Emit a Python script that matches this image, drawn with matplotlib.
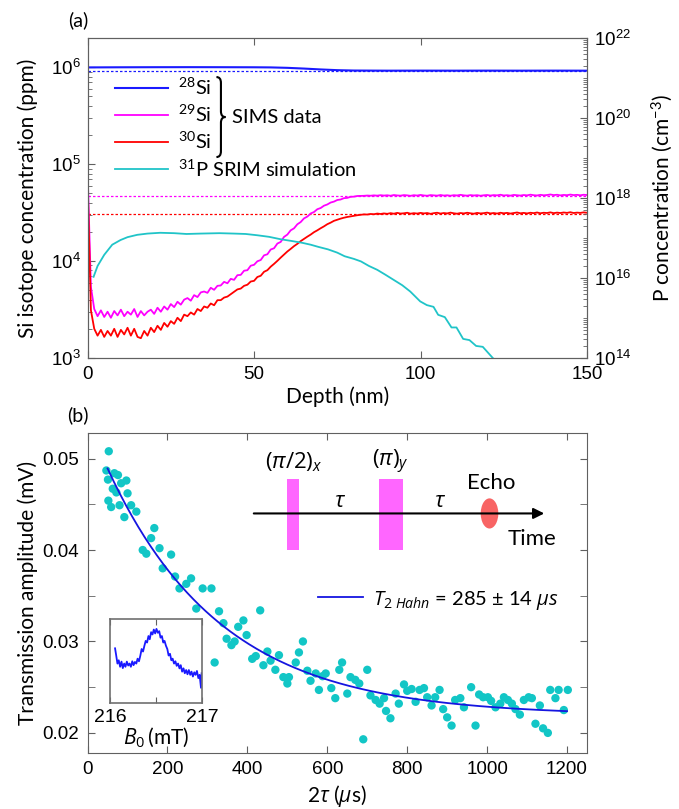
import numpy as np
import matplotlib
matplotlib.use("Agg")
import matplotlib.pyplot as plt
from matplotlib.ticker import LogLocator, MultipleLocator, NullFormatter, FixedLocator
from matplotlib.patches import Rectangle, Ellipse, PathPatch
from matplotlib.path import Path

plt.rcParams['font.family'] = ['Liberation Sans', 'DejaVu Sans']
plt.rcParams['mathtext.fontset'] = 'custom'
plt.rcParams['mathtext.rm'] = 'Open Sans'
plt.rcParams['mathtext.it'] = 'Open Sans:italic'
LABEL_FONT = ['Lato', 'Open Sans', 'DejaVu Sans']

# ---------------- (a) SIMS depth profiles ----------------
depth_nm = np.arange(0, 151)

si29_ppm = [85000, 5400, 3200, 2700, 3100, 2650, 3000, 2600, 3050, 2750,
            3150, 2700, 3000, 2800, 3200, 2650, 3050, 2750, 3000, 3150,
            2850, 3300, 3000, 3400, 3150, 3600, 3350, 3800, 3550, 4000,
            4150, 3900, 4450, 4250, 4750, 4850, 4700, 5300, 5050, 5550,
            5600, 6100, 5900, 6550, 6400, 7150, 7200, 7950, 8050, 8950,
            9150, 9950, 10250, 11450, 11750, 13150, 13550, 15150, 15750, 17750,
            18750, 20750, 21750, 23950, 25250, 27550, 28750, 30950, 32050, 34250,
            35250, 37250, 38350, 40150, 41050, 42650, 43150, 44550, 44850, 46000,
            46200, 46900, 47000, 47100, 47400, 47200, 47600, 47300, 47800, 47400,
            47700, 47200, 48000, 47500, 47300, 47900, 47600, 47100, 47800, 47400,
            48100, 47500, 47200, 47900, 47600, 47300, 48000, 47400, 47700, 47200,
            47800, 47500, 48200, 47600, 47300, 47900, 47500, 47800, 47200, 47700,
            48000, 47400, 47900, 47600, 48300, 47500, 47800, 47300, 48100, 47700,
            47400, 48000, 47600, 48400, 47800, 47500, 48200, 47700, 48000, 48600,
            47900, 48300, 47600, 48100, 47800, 48500, 47900, 48200, 47700, 48300,
            48000]

si30_ppm = [65000, 3100, 2000, 1700, 1950, 1650, 1900, 1700, 2000, 1650,
            1950, 1750, 2050, 1700, 2000, 1650, 1600, 1900, 1700, 2050,
            1850, 2150, 1950, 2300, 2100, 2400, 2250, 2600, 2400, 2800,
            2700, 2950, 2800, 3200, 3050, 3400, 3300, 3650, 3500, 3950,
            3950, 4200, 4300, 4550, 4800, 5100, 5200, 5550, 5700, 6150,
            6250, 6850, 7050, 7750, 8050, 8750, 9350, 10050, 10850, 11650,
            12550, 13350, 14250, 15050, 16050, 16950, 17850, 18750, 19850, 20750,
            21800, 22800, 24000, 24900, 26000, 26700, 27400, 28000, 28500, 28900,
            29300, 29700, 30000, 30300, 30200, 30600, 30400, 30900, 30600, 31000,
            30700, 31200, 30800, 31400, 30900, 31100, 31500, 30800, 31200, 30900,
            31400, 31000, 31300, 30700, 31200, 31500, 30900, 31300, 31000, 31600,
            31100, 30800, 31300, 31000, 31500, 31100, 30800, 31400, 31000, 31200,
            31600, 31000, 31300, 30900, 31500, 31100, 31400, 30900, 31300, 31700,
            31100, 31400, 31000, 31500, 31200, 31700, 31100, 31500, 31300, 31800,
            31200, 31600, 31300, 31700, 31400, 31900, 31300, 31600, 31400, 31800,
            31500]

depth_28_nm = [0, 10, 20, 30, 40, 50, 55, 60, 65, 70, 75, 80, 90, 100, 110, 120, 130, 140, 150]
si28_ppm = [995000, 998000, 1000000, 1001000, 1000000, 998000, 995000, 985000, 968000,
            948000, 932000, 924000, 921000, 922000, 921000, 922000, 921000, 922000, 921000]

# natural abundances (ppm)
natural_ppm = {'28': 922300, '29': 46850, '30': 30920}

depth_p_nm = [1.8, 3.0, 5.0, 7.4, 9.9, 12, 14.9, 18, 21.8, 26, 29.7, 34, 39.6, 44, 47.5,
              51, 54.5, 58, 61, 64.4, 67, 69.3, 72.2, 75, 77.2, 80, 82.1, 84.5, 87, 89.5,
              92, 94.5, 96.9, 99.9, 101.9, 103.9, 105.3, 107.3, 109.3, 110.8, 112.8,
              114.7, 116.7, 118.7, 121.7, 123.5]
p_conc_cm3 = [1.07e16, 2.0e16, 3.8e16, 6.8e16, 8.9e16, 1.05e17, 1.2e17, 1.29e17, 1.35e17,
              1.32e17, 1.26e17, 1.29e17, 1.32e17, 1.29e17, 1.26e17, 1.17e17, 1.07e17,
              9.3e16, 8.5e16, 7.6e16, 6.8e16, 6.0e16, 5.2e16, 4.3e16, 3.5e16, 3.0e16,
              2.6e16, 2.0e16, 1.6e16, 1.2e16, 8.9e15, 6.6e15, 4.6e15, 2.6e15, 2.1e15,
              1.9e15, 1.2e15, 1.05e15, 5.8e14, 5.8e14, 3.0e14, 2.8e14, 2.0e14, 1.9e14,
              1.0e14, 7.0e13]

# ---------------- (b) Hahn echo decay ----------------
two_tau_us = [47, 51, 52, 53, 59, 63, 67, 72, 76, 80, 84, 92, 97, 100, 109, 122, 138, 147,
              159, 167, 180, 188, 209, 219, 230, 247, 259, 272, 288, 310, 318, 329, 340,
              348, 360, 368, 377, 390, 398, 412, 421, 432, 440, 450, 458, 470, 479, 490,
              500, 504, 521, 529, 539, 550, 558, 571, 579, 588, 596, 610, 620, 630, 637,
              650, 658, 670, 680, 690, 700, 708, 721, 731, 742, 747, 758, 771, 779, 792,
              800, 811, 821, 831, 842, 850, 861, 870, 881, 890, 900, 911, 920, 933, 942,
              960, 971, 980, 990, 1002, 1010, 1021, 1033, 1042, 1052, 1062, 1071, 1082,
              1092, 1104, 1112, 1121, 1132, 1140, 1152, 1158, 1171, 1179, 1192, 1202]
amplitude_mV = [0.0487, 0.0477, 0.0454, 0.0508, 0.0447, 0.0467, 0.0484, 0.0463, 0.0482,
                0.0449, 0.0473, 0.0436, 0.0476, 0.0462, 0.0449, 0.0442, 0.0400, 0.0396,
                0.0413, 0.0424, 0.0402, 0.0380, 0.0395, 0.0371, 0.0358, 0.0363, 0.0369,
                0.0336, 0.0358, 0.0358, 0.0277, 0.0333, 0.0320, 0.0303, 0.0296, 0.0300,
                0.0316, 0.0323, 0.0307, 0.0281, 0.0284, 0.0334, 0.0274, 0.0289, 0.0279,
                0.0269, 0.0285, 0.0261, 0.0254, 0.0261, 0.0277, 0.0288, 0.0300, 0.0268,
                0.0257, 0.0265, 0.0247, 0.0262, 0.0265, 0.0249, 0.0238, 0.0269, 0.0277,
                0.0243, 0.0261, 0.0258, 0.0254, 0.0193, 0.0269, 0.0241, 0.0236, 0.0232,
                0.0238, 0.0224, 0.0216, 0.0243, 0.0232, 0.0253, 0.0246, 0.0248, 0.0234,
                0.0247, 0.0249, 0.0239, 0.0230, 0.0239, 0.0247, 0.0226, 0.0217, 0.0208,
                0.0236, 0.0238, 0.0228, 0.0250, 0.0208, 0.0242, 0.0239, 0.0239, 0.0235,
                0.0228, 0.0232, 0.0239, 0.0236, 0.0232, 0.0226, 0.0220, 0.0236, 0.0239,
                0.0238, 0.0210, 0.0230, 0.0205, 0.0200, 0.0247, 0.0238, 0.0247, 0.0225,
                0.0247]

t2_hahn_us = 285
t2_err_us = 14
fit_amp_mV = 0.0322
fit_offset_mV = 0.0219

# ESR line used for the inset
b0_mT = [216.055, 216.066, 216.081, 216.095, 216.110, 216.125, 216.139, 216.154, 216.168,
         216.183, 216.198, 216.212, 216.227, 216.242, 216.256, 216.271, 216.286, 216.300,
         216.315, 216.330, 216.344, 216.359, 216.374, 216.388, 216.403, 216.418, 216.432,
         216.447, 216.462, 216.476, 216.491, 216.505, 216.520, 216.535, 216.549, 216.564,
         216.579, 216.593, 216.608, 216.623, 216.637, 216.652, 216.667, 216.681, 216.696,
         216.711, 216.725, 216.740, 216.755, 216.769, 216.784, 216.799, 216.813, 216.828,
         216.842, 216.857, 216.872, 216.886, 216.901, 216.916, 216.930, 216.945, 216.960,
         216.974, 216.989, 216.996]
esr_signal = [0.65, 0.575, 0.469, 0.508, 0.431, 0.492, 0.415, 0.469, 0.431, 0.492, 0.446,
              0.469, 0.431, 0.496, 0.450, 0.488, 0.469, 0.527, 0.496, 0.565, 0.642, 0.612,
              0.681, 0.738, 0.719, 0.796, 0.758, 0.842, 0.815, 0.873, 0.827, 0.881, 0.835,
              0.854, 0.777, 0.796, 0.719, 0.738, 0.681, 0.642, 0.565, 0.585, 0.508, 0.527,
              0.469, 0.496, 0.442, 0.469, 0.412, 0.450, 0.373, 0.412, 0.354, 0.392, 0.342,
              0.392, 0.335, 0.373, 0.315, 0.365, 0.335, 0.381, 0.296, 0.335, 0.181, 0.354]

spine_col = '#606060'

fig = plt.figure(figsize=(6.79, 8.09), dpi=100)

# ---- panel (a) ----
ax = fig.add_axes([0.129, 0.5575, 0.7355, 0.3955])
ax2 = ax.twinx()

for key, col in [('28', '#1a1aff'), ('29', '#ff00ff'), ('30', '#ff0000')]:
    ax.hlines(natural_ppm[key], 0, 150, colors=col, lw=0.9, linestyles=(0, (2, 1.6)))

l28, = ax.plot(depth_28_nm, si28_ppm, color='#1a1aff', lw=1.5)
l29, = ax.plot(depth_nm, si29_ppm, color='#ff00ff', lw=1.3)
l30, = ax.plot(depth_nm, si30_ppm, color='#ff0000', lw=1.3)
lp, = ax2.plot(depth_p_nm, p_conc_cm3, color='#20c4c8', lw=1.3)

ax.set_yscale('log')
ax.set_xlim(0, 150)
ax.set_ylim(1e3, 2.0e6)
ax2.set_yscale('log')
ax2.set_ylim(1e14, 1e22)

ax.set_xticks([0, 50, 100, 150])
ax.yaxis.set_major_locator(FixedLocator([1e3, 1e4, 1e5, 1e6]))
ax.yaxis.set_minor_locator(LogLocator(base=10, subs=np.arange(2, 10), numticks=50))
ax.yaxis.set_minor_formatter(NullFormatter())
ax2.yaxis.set_major_locator(FixedLocator([1e14, 1e16, 1e18, 1e20, 1e22]))
ax2.yaxis.set_minor_locator(LogLocator(base=10, subs=np.arange(1, 10), numticks=50))
ax2.yaxis.set_minor_formatter(NullFormatter())

ax.tick_params(axis='x', which='both', direction='in', top=True, length=5,
               color=spine_col, labelsize=13.5, pad=6)
ax.tick_params(axis='y', which='major', direction='in', length=5, color=spine_col,
               labelsize=13.5, pad=5)
ax.tick_params(axis='y', which='minor', direction='in', length=3, color=spine_col)
ax2.tick_params(axis='y', which='major', direction='in', length=5, color=spine_col,
                labelsize=13.5, pad=5)
ax2.tick_params(axis='y', which='minor', direction='in', length=3, color=spine_col)
for a in (ax, ax2):
    for s in a.spines.values():
        s.set_color(spine_col)

ax.set_xlabel('Depth (nm)', fontsize=15, family=LABEL_FONT)
ax.set_ylabel('Si isotope concentration (ppm)', fontsize=15, family=LABEL_FONT)
ax2.set_ylabel(r'P concentration (cm$\mathregular{^{-3}}$)', fontsize=15, family=LABEL_FONT)
ax.xaxis.set_label_coords(0.5, -0.09)
ax.yaxis.set_label_coords(-0.10, 0.5)
ax2.yaxis.set_label_coords(1.126, 0.5)

leg = ax.legend([l28, l29, l30, lp],
                [r'$\mathregular{^{28}}$Si', r'$\mathregular{^{29}}$Si',
                 r'$\mathregular{^{30}}$Si', r'$\mathregular{^{31}}$P SRIM simulation'],
                loc='upper left', bbox_to_anchor=(0.055, 0.88), frameon=False,
                borderpad=0, borderaxespad=0, handlelength=2.65, handletextpad=0.5,
                labelspacing=0.3, prop={'family': LABEL_FONT, 'size': 14.5})

# brace grouping the SIMS entries
bx0, bx1 = 0.258, 0.276
by0, by1 = 0.628, 0.878
bym = 0.5 * (by0 + by1)
br = 0.018
bxm = 0.5 * (bx0 + bx1)
verts = [(bx0, by1), (bxm, by1), (bxm, by1 - br),
         (bxm, bym + br), (bxm, bym), (bx1, bym),
         (bxm, bym), (bxm, bym - br),
         (bxm, by0 + br), (bxm, by0), (bx0, by0)]
codes = [Path.MOVETO, Path.CURVE3, Path.CURVE3,
         Path.LINETO, Path.CURVE3, Path.CURVE3,
         Path.CURVE3, Path.CURVE3,
         Path.LINETO, Path.CURVE3, Path.CURVE3]
ax.add_patch(PathPatch(Path(verts, codes), transform=ax.transAxes, fill=False,
                       lw=1.5, color='black'))
ax.text(0.289, bym, 'SIMS data', transform=ax.transAxes, ha='left', va='center',
        fontsize=14.5, family=LABEL_FONT)

fig.text(0.115, 0.975, '(a)', fontsize=14, family=LABEL_FONT, ha='center', va='center')

# ---- panel (b) ----
bx = fig.add_axes([0.129, 0.0692, 0.7355, 0.3956])
bx.scatter(two_tau_us, amplitude_mV, s=36, color='#12c6c6', edgecolors='none', zorder=2)
fit_x = np.linspace(50, 1200, 300)
fit_y = fit_offset_mV + fit_amp_mV * np.exp(-fit_x / t2_hahn_us)
lfit, = bx.plot(fit_x, fit_y, color='#1515e0', lw=1.3, zorder=3)

bx.set_xlim(0, 1250)
bx.set_ylim(0.0178, 0.0528)
bx.set_xticks(np.arange(0, 1201, 200))
bx.set_yticks([0.02, 0.03, 0.04, 0.05])
bx.yaxis.set_minor_locator(MultipleLocator(0.005))
bx.tick_params(which='both', direction='in', top=True, right=True, length=5,
               color=spine_col, labelsize=13.5, pad=6)
for s in bx.spines.values():
    s.set_color(spine_col)
bx.set_xlabel(r'2$\tau$ ($\mu$s)', fontsize=15, family=LABEL_FONT)
bx.set_ylabel('Transmission amplitude (mV)', fontsize=15, family=LABEL_FONT)
bx.xaxis.set_label_coords(0.5, -0.095)
bx.yaxis.set_label_coords(-0.10, 0.5)

bx.legend([lfit], [r'$T_{2\ Hahn}$ = %d $\pm$ %d $\mu s$' % (t2_hahn_us, t2_err_us)],
          loc='center left', bbox_to_anchor=(0.442, 0.478), frameon=False, borderpad=0,
          handlelength=2.2, handletextpad=0.5, prop={'family': LABEL_FONT, 'size': 14.5})

# pulse sequence sketch
line_y = 0.0440
bx.add_patch(Rectangle((500, 0.0400), 29, 0.0078, color='#ff66ff', lw=0, zorder=2))
bx.add_patch(Rectangle((729, 0.0400), 61, 0.0078, color='#ff66ff', lw=0, zorder=2))
bx.add_patch(Ellipse((1006, line_y), 44, 0.0033, color='#f86464', lw=0, zorder=2))
bx.annotate('', xy=(1143, line_y), xytext=(416, line_y),
            arrowprops=dict(arrowstyle='-|>', color='black', lw=1.5, mutation_scale=16,
                            shrinkA=0, shrinkB=0), zorder=4)
bx.text(516, 0.0496, r'$(\pi/2)_x$', ha='center', va='center', fontsize=16)
bx.text(757, 0.0496, r'$(\pi)_y$', ha='center', va='center', fontsize=16)
bx.text(632, 0.04526, r'$\tau$', ha='center', va='center', fontsize=16)
bx.text(883, 0.04526, r'$\tau$', ha='center', va='center', fontsize=16)
bx.text(1010, 0.0473, 'Echo', ha='center', va='center', fontsize=16, family=LABEL_FONT)
bx.text(1112, 0.0412, 'Time', ha='center', va='center', fontsize=16, family=LABEL_FONT)

fig.text(0.115, 0.487, '(b)', fontsize=14, family=LABEL_FONT, ha='center', va='center')

# inset: ESR line
ins = fig.add_axes([0.162, 0.131, 0.1355, 0.104])
ins.plot(b0_mT, esr_signal, color='#1a1aff', lw=1.3)
ins.set_xlim(216, 217)
ins.set_ylim(0, 1)
ins.set_xticks([216, 216.5, 217])
ins.set_xticklabels(['216', '', '217'])
ins.set_yticks([])
ins.tick_params(axis='x', direction='in', top=True, length=4, color=spine_col,
                labelsize=14, pad=4)
for s in ins.spines.values():
    s.set_color('#707070')
    s.set_linewidth(1.2)
ins.set_xlabel(r'$B_0\,$(mT)', fontsize=15, family=LABEL_FONT, labelpad=0)

fig.savefig('out.png', dpi=100)
